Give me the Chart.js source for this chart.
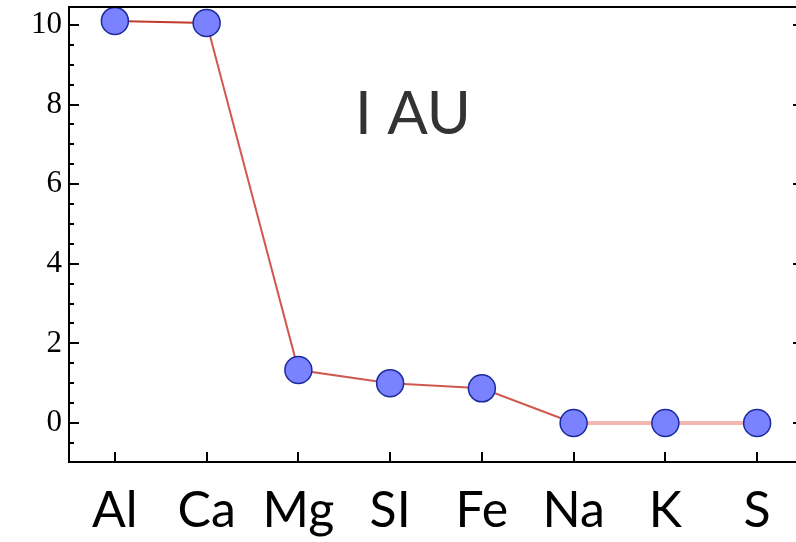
<!DOCTYPE html>
<html>
<head>
<meta charset="utf-8">
<script src="https://cdn.jsdelivr.net/npm/chart.js@4/dist/chart.umd.min.js"></script>
<style>
  html, body { margin: 0; padding: 0; background: #fff; overflow: hidden; }
  #wrap { width: 796px; height: 542px; overflow: hidden; }
</style>
</head>
<body>
<div id="wrap"><canvas id="chart" width="830" height="542"></canvas></div>
<script>
// Data
const elements = ["Al", "Ca", "Mg", "SI", "Fe", "Na", "K", "S"];
const values = [10.1, 10.05, 1.33, 1.0, 0.87, 0, 0, 0];
const yMajorTicks = [0, 2, 4, 6, 8, 10];
const yMinorTicks = [-0.5, 0.5, 1, 1.5, 2.5, 3, 3.5, 4.5, 5, 5.5, 6.5, 7, 7.5, 8.5, 9, 9.5];
const label = "I AU";

// frame + inward ticks, like the original plot
const framePlugin = {
  id: "frame",
  afterDraw(chart) {
    const { ctx, chartArea: a, scales } = chart;
    const x = scales.x, y = scales.y;
    ctx.save();
    ctx.strokeStyle = "#000";
    ctx.lineWidth = 2;
    ctx.beginPath();
    ctx.moveTo(a.left, a.top);
    ctx.lineTo(a.right, a.top);
    ctx.lineTo(a.right, a.bottom);
    ctx.stroke();

    ctx.beginPath();
    yMajorTicks.forEach((v) => {
      const py = Math.round(y.getPixelForValue(v));
      ctx.moveTo(a.left, py);
      ctx.lineTo(a.left + 10, py);
      ctx.moveTo(a.right, py);
      ctx.lineTo(a.right - 10, py);
    });
    yMinorTicks.forEach((v) => {
      const py = Math.round(y.getPixelForValue(v));
      ctx.moveTo(a.left, py);
      ctx.lineTo(a.left + 5, py);
    });
    elements.forEach((_, i) => {
      const px = Math.round(x.getPixelForValue(i));
      ctx.moveTo(px, a.bottom);
      ctx.lineTo(px, a.bottom - 10);
    });
    ctx.stroke();

    ctx.fillStyle = "#333";
    ctx.font = "60px Lato";
    ctx.textAlign = "center";
    ctx.textBaseline = "alphabetic";
    ctx.fillText(label, 413, 134);
    ctx.restore();
  },
};

new Chart(document.getElementById("chart"), {
  type: "line",
  data: {
    labels: elements,
    datasets: [{
      data: values,
      borderColor: "#c8453c",
      borderWidth: 2,
      segment: {
        borderColor: (c) => (c.p0DataIndex >= 5 ? "#f4b6b0" : c.p0DataIndex >= 1 ? "#d0584e" : "#c0392b"),
        borderWidth: (c) => (c.p0DataIndex >= 5 ? 4 : 2),
      },
      pointRadius: 13.5,
      pointHoverRadius: 13.5,
      pointBackgroundColor: "#7a82ff",
      pointBorderColor: "#1b2a9c",
      pointBorderWidth: 1.5,
      tension: 0,
      clip: false,
    }],
  },
  options: {
    responsive: false,
    animation: false,
    devicePixelRatio: 1,
    layout: { autoPadding: false, padding: { top: 7, right: 27, left: 0, bottom: 0 } },
    plugins: { legend: { display: false }, tooltip: { enabled: false } },
    scales: {
      x: {
        type: "category",
        offset: true,
        grid: { display: false, drawTicks: false },
        border: { display: true, color: "#000", width: 2 },
        ticks: {
          color: "#000",
          font: { family: "Lato", size: 50 },
          padding: 19,
          autoSkip: false,
          maxRotation: 0,
        },
        afterFit(scale) {
          scale.height = 80;
          scale.paddingLeft = 0;
          scale.paddingRight = 0;
        },
      },
      y: {
        min: -0.98,
        max: 10.45,
        grid: { display: false, drawTicks: false },
        border: { display: true, color: "#000", width: 2 },
        afterBuildTicks(scale) { scale.ticks = yMajorTicks.map((v) => ({ value: v })); },
        ticks: {
          color: "#000",
          font: { family: "Liberation Serif", size: 31 },
          padding: 7,
        },
        afterFit(scale) {
          scale.width = 69;
          scale.paddingTop = 0;
          scale.paddingBottom = 0;
        },
      },
    },
  },
  plugins: [framePlugin],
});
</script>
</body>
</html>
